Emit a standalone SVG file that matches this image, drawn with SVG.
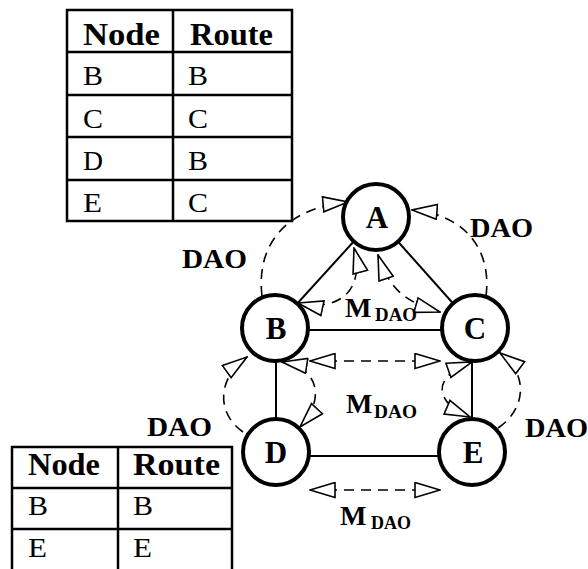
<svg xmlns="http://www.w3.org/2000/svg" width="588" height="569" viewBox="0 0 588 569">
<defs>
<marker id="oa" markerUnits="userSpaceOnUse" viewBox="0 0 27 17" refX="26" refY="8.5" markerWidth="27" markerHeight="17" orient="auto-start-reverse">
<path d="M1,1 L26,8.5 L1,16 Z" fill="#fff" stroke="#000" stroke-width="1.6"/>
</marker>
</defs>
<style>
.tb{fill:none;stroke:#000;stroke-width:2.5}
.th{font-family:"Liberation Serif",serif;font-weight:bold;font-size:31px;fill:#000}
.td{font-family:"Liberation Serif",serif;font-size:27px;fill:#000}
.edge{stroke:#000;stroke-width:2;fill:none}
.dash{stroke:#000;stroke-width:1.6;fill:none;stroke-dasharray:10,7}
.nd{fill:#fff;stroke:#000;stroke-width:4}
.nl{font-family:"Liberation Serif",serif;font-weight:bold;font-size:31px;fill:#000;text-anchor:middle}
.lb{font-family:"Liberation Serif",serif;font-weight:bold;font-size:28px;fill:#000}
.sb{font-family:"Liberation Serif",serif;font-weight:bold;font-size:19px;fill:#000}
</style>
<g id="table-top">
<rect class="tb" x="67" y="10" width="225" height="211"/>
<line class="tb" x1="173" y1="10" x2="173" y2="221"/>
<line class="tb" x1="67" y1="52" x2="292" y2="52"/>
<line class="tb" x1="67" y1="95" x2="292" y2="95"/>
<line class="tb" x1="67" y1="137" x2="292" y2="137"/>
<line class="tb" x1="67" y1="180" x2="292" y2="180"/>
<text class="th" x="83" y="45" textLength="77" lengthAdjust="spacingAndGlyphs">Node</text>
<text class="th" x="190" y="45" textLength="83" lengthAdjust="spacingAndGlyphs">Route</text>
<text class="td" x="83" y="85" textLength="20" lengthAdjust="spacingAndGlyphs">B</text>
<text class="td" x="188" y="85" textLength="20" lengthAdjust="spacingAndGlyphs">B</text>
<text class="td" x="83" y="128" textLength="20" lengthAdjust="spacingAndGlyphs">C</text>
<text class="td" x="188" y="128" textLength="20" lengthAdjust="spacingAndGlyphs">C</text>
<text class="td" x="83" y="170" textLength="20" lengthAdjust="spacingAndGlyphs">D</text>
<text class="td" x="188" y="170" textLength="20" lengthAdjust="spacingAndGlyphs">B</text>
<text class="td" x="83" y="212" textLength="19" lengthAdjust="spacingAndGlyphs">E</text>
<text class="td" x="188" y="212" textLength="20" lengthAdjust="spacingAndGlyphs">C</text>
</g>
<g id="table-bottom">
<rect class="tb" x="12" y="447" width="220" height="130"/>
<line class="tb" x1="118" y1="447" x2="118" y2="577"/>
<line class="tb" x1="12" y1="488" x2="232" y2="488"/>
<line class="tb" x1="12" y1="529" x2="232" y2="529"/>
<text class="th" x="28" y="475" textLength="72" lengthAdjust="spacingAndGlyphs">Node</text>
<text class="th" x="133" y="475" textLength="87" lengthAdjust="spacingAndGlyphs">Route</text>
<text class="td" x="28" y="515" textLength="20" lengthAdjust="spacingAndGlyphs">B</text>
<text class="td" x="133" y="515" textLength="20" lengthAdjust="spacingAndGlyphs">B</text>
<text class="td" x="28" y="557" textLength="19" lengthAdjust="spacingAndGlyphs">E</text>
<text class="td" x="133" y="557" textLength="19" lengthAdjust="spacingAndGlyphs">E</text>
</g>
<g id="connectors">
<line class="edge" x1="376" y1="217" x2="275" y2="328"/>
<line class="edge" x1="376" y1="217" x2="475" y2="328"/>
<line class="edge" x1="275" y1="330" x2="475" y2="330"/>
<line class="edge" x1="276" y1="328" x2="276" y2="452"/>
<line class="edge" x1="472" y1="328" x2="472" y2="452"/>
<line class="edge" x1="276" y1="456" x2="472" y2="456"/>
<path class="dash" d="M262,296 C256,245 285,208 348,202" marker-end="url(#oa)"/>
<path class="dash" d="M486,296 C492,250 465,214 412,210" marker-end="url(#oa)"/>
<path class="dash" d="M298,303 C340,312 365,290 354,248" marker-start="url(#oa)" marker-end="url(#oa)"/>
<path class="dash" d="M378,255 C390,290 405,302 440,312" marker-start="url(#oa)" marker-end="url(#oa)"/>
<path class="dash" d="M310,361 L440,361" marker-start="url(#oa)" marker-end="url(#oa)"/>
<path class="dash" d="M310,490 L440,490" marker-start="url(#oa)" marker-end="url(#oa)"/>
<path class="dash" d="M282,362 C320,368 325,400 300,427" marker-start="url(#oa)" marker-end="url(#oa)"/>
<path class="dash" d="M243,432 C218,415 215,380 247,357" marker-end="url(#oa)"/>
<path class="dash" d="M472,362 C435,375 430,400 470,417" marker-start="url(#oa)" marker-end="url(#oa)"/>
<path class="dash" d="M498,428 C525,410 530,375 500,353" marker-end="url(#oa)"/>
</g>
<g id="node-A"><circle class="nd" cx="376" cy="217" r="33"/><text class="nl" x="377" y="228">A</text></g>
<g id="node-B"><circle class="nd" cx="275" cy="328" r="33"/><text class="nl" x="276" y="339">B</text></g>
<g id="node-C"><circle class="nd" cx="475" cy="328" r="33"/><text class="nl" x="475" y="339">C</text></g>
<g id="node-D"><circle class="nd" cx="276" cy="452" r="33"/><text class="nl" x="276" y="463">D</text></g>
<g id="node-E"><circle class="nd" cx="472" cy="452" r="33"/><text class="nl" x="473" y="463">E</text></g>
<g id="labels">
<text class="lb" x="182" y="268" textLength="65" lengthAdjust="spacingAndGlyphs">DAO</text>
<text class="lb" x="470" y="237" textLength="63" lengthAdjust="spacingAndGlyphs">DAO</text>
<text class="lb" x="147" y="436" textLength="65" lengthAdjust="spacingAndGlyphs">DAO</text>
<text class="lb" x="525" y="437" textLength="63" lengthAdjust="spacingAndGlyphs">DAO</text>
<text class="lb" x="345" y="317" font-size="31">M</text><text class="sb" x="375" y="321" textLength="42" lengthAdjust="spacingAndGlyphs">DAO</text>
<text class="lb" x="346" y="413" font-size="31">M</text><text class="sb" x="374" y="418" textLength="43" lengthAdjust="spacingAndGlyphs">DAO</text>
<text class="lb" x="340" y="525" font-size="31">M</text><text class="sb" x="371" y="529" textLength="40" lengthAdjust="spacingAndGlyphs">DAO</text>
</g>
</svg>
